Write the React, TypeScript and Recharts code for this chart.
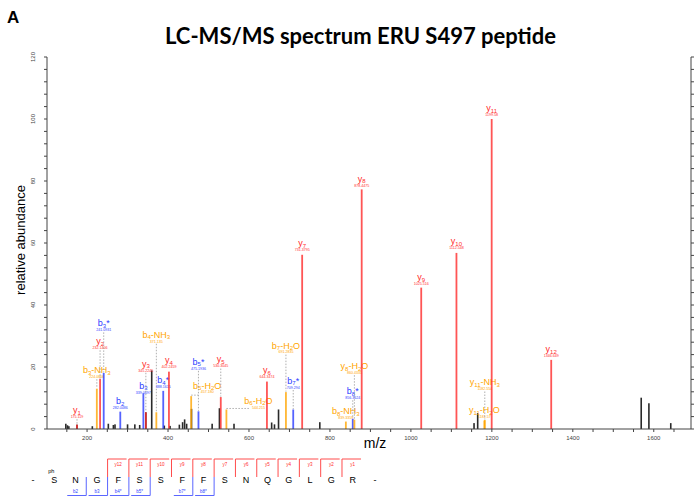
import React from "react";
import {Bar, ComposedChart, ReferenceLine, XAxis, YAxis} from "recharts";

// assigned fragment ions (name, m/z as printed, relative abundance)
const ionNames = ["y1", "b3-NH3", "y2", "b3*", "b2", "b3", "y3", "b4-NH3", "b4*", "y4", "b5-H2O", "b5*", "y5", "b6-H2O", "y6", "b7-H2O", "b7*", "y7", "b8-NH3", "b8*", "y8-H2O", "y8", "y9", "y10", "y11-H2O", "y11-NH3", "y11", "y12"];
const ionMz = ["175.119", "224.0866", "232.1406", "241.0931", "282.0486", "339.0697", "345.2245", "371.135", "388.1615", "402.2459", "457.180", "475.1936", "530.3045", "544.215", "644.3474", "691.2835", "709.294", "731.3795", "839.3359", "856.3624", "860.4335", "878.4475", "1025.516", "1112.548", "1181.57", "1182.554", "1199.58", "1346.649"];
const ionIntensity = [1.4, 13, 16.2, 18.1, 5.6, 11.5, 5.4, 5.4, 12.3, 18.5, 10.6, 5.7, 10.3, 6.3, 15.3, 11.9, 6.3, 56.2, 2.4, 3.3, 3.0, 77.3, 45.6, 56.8, 2.7, 2.9, 100, 22.3];

// unassigned peaks
const otherMz = [147.5, 151.6, 155, 175.1, 213, 252.5, 265, 269, 300, 318, 330, 345.2, 359.7, 390.8, 405, 428, 436, 441, 446, 458, 509, 527, 563, 656, 663, 673, 775, 1156, 1165, 1569, 1588, 1642];
const otherIntensity = [1.7, 1.2, 0.9, 1.4, 0.9, 1.7, 1.3, 1.5, 1.5, 1.5, 1.3, 5.4, 18.9, 1.1, 1.0, 1.4, 2.2, 3.1, 1.7, 6.5, 1.7, 6.7, 1.7, 2.1, 1.5, 6.3, 2.2, 1.9, 5.1, 10.1, 8.3, 1.9];

const xTicks = [150, 200, 250, 300, 350, 400, 450, 500, 550, 600, 650, 700, 750, 800, 850, 900, 950, 1000, 1050, 1100, 1150, 1200, 1250, 1300, 1350, 1400, 1450, 1500, 1550, 1600, 1650];
const xLabelTicks = [200, 400, 600, 800, 1000, 1200, 1400, 1600];
const yTicks = [0, 4, 8, 12, 16, 20, 24, 28, 32, 36, 40, 44, 48, 52, 56, 60, 64, 68, 72, 76, 80, 84, 88, 92, 96, 100, 104, 108, 112, 116, 120];
const yLabelTicks = [0, 20, 40, 60, 80, 100, 120];

// peptide map
const sequence = ["S", "N", "G", "F", "S", "S", "F", "F", "S", "N", "Q", "G", "L", "G", "R"];
const yIonLabels = ["y12", "y11", "y10", "y9", "y8", "y7", "y6", "y5", "y4", "y3", "y2", "y1"];
const yIonResidue = [3, 4, 5, 6, 7, 8, 9, 10, 11, 12, 13, 14];
const bIonLabels = ["b2", "b3", "b4*", "b5*", "b7*", "b8*"];
const bIonResidue = [1, 2, 3, 4, 6, 7];

// label placement: lift = extra px above the peak top, dx = sideways shift
const labelLayout: Record<string, {lift: number, dx?: number}> = {
    "b3*": {lift: 39}, "y2": {lift: 27}, "b3-NH3": {lift: 8}, "y1": {lift: 4},
    "b3": {lift: -3}, "y3": {lift: 38}, "b4-NH3": {lift: 67}, "y4": {lift: 1},
    "b5*": {lift: 39}, "y5": {lift: 27}, "b5-H2O": {lift: 0, dx: 16}, "b6-H2O": {lift: -2, dx: 32},
    "y6": {lift: 1}, "b7-H2O": {lift: 36}, "b7*": {lift: 18}, "y7": {lift: 1},
    "b8*": {lift: 17}, "y8-H2O": {lift: 43}, "y10": {lift: 1}, "y11-NH3": {lift: 27},
};

const X_MIN = 101;
const X_MAX = 1692;
const RIGHT_TICK_LEN = 7.4; // in m/z units, about 3px

const RED = "#ff2a2a";
const BLUE = "#2b3cff";
const ORANGE = "#ffa500";
const AXIS = "#444";
const FONT = "'Liberation Sans', Arial, sans-serif";

const ionColor = (name: string) => name.includes("-") ? ORANGE : name.startsWith("y") ? RED : BLUE;

const peaks = [
    ...otherMz.map((mz, i) => ({mz, intensity: otherIntensity[i], ion: "", label: ""})),
    ...ionNames.map((ion, i) => ({mz: Number(ionMz[i]), intensity: ionIntensity[i], ion, label: ionMz[i]})),
];

const IonName = ({name, x, y, color}: any) => {
    const parts: string[] = name.match(/\d+|\D+/g) || [];
    return (
        <text x={x} y={y} textAnchor="middle" fill={color} fontSize={9} fontFamily={FONT}>
            {parts.map((p, i) => /\d/.test(p)
                ? <tspan key={i} fontSize={6} dy={1.6}>{p}</tspan>
                : <tspan key={i} dy={i > 0 ? -1.6 : 0}>{p}</tspan>)}
        </text>
    );
};

const PeakShape = (props: any) => {
    const {x, y, width, payload} = props;
    if (x == null || y == null) return <g/>;
    const cx = x + width / 2;
    const bottom = y + props.height;
    const ion: string = payload.ion;
    if (!ion) {
        return <rect x={cx - 0.8} y={y} width={1.6} height={bottom - y} fill="#2a2a2a"/>;
    }
    const color = ionColor(ion);
    const lay = labelLayout[ion] || {lift: 0};
    const lx = cx + (lay.dx || 0);
    const valueY = y - 4 - lay.lift;
    return (
        <g>
            <rect x={cx - 0.9} y={y} width={1.8} height={bottom - y} fill={color} fillOpacity={0.8}/>
            {lay.lift > 3 && (
                <line x1={cx} x2={cx} y1={valueY + 2.5} y2={y - 0.5} stroke="#9a9a9a" strokeWidth={0.8} strokeDasharray="1.5 1.5"/>
            )}
            {lay.dx && (
                <line x1={cx} x2={lx - 9} y1={y - 1} y2={y - 1} stroke="#9a9a9a" strokeWidth={0.8} strokeDasharray="1.5 1.5"/>
            )}
            <IonName name={ion} x={lx} y={valueY - 3.6} color={color}/>
            <text x={lx} y={valueY + 1.3} textAnchor="middle" fill={color} fontSize={3.6} fontFamily={FONT}>{payload.label}</text>
        </g>
    );
};

const XTick = ({x, y, payload}: any) => (
    xLabelTicks.includes(payload.value)
        ? <text x={x} y={y} dy={4.5} textAnchor="middle" fontSize={6} fill={AXIS} fontFamily={FONT}>{payload.value}</text>
        : <g/>
);

const YTick = ({x, y, payload}: any) => (
    yLabelTicks.includes(payload.value)
        ? <text transform={`translate(${x},${y}) rotate(-90)`} textAnchor="middle" fontSize={6} fill={AXIS} fontFamily={FONT}>{payload.value}</text>
        : <g/>
);

const letterX = (i: number) => 54.3 + i * 21.31;

const App = () => {
    return (
        <div style={{position: "absolute", left: 0, top: 0, width: 698, height: 497, background: "#fff", overflow: "hidden"}}>
            <ComposedChart width={698} height={449} data={peaks} margin={{top: 57, right: 7, left: 0, bottom: 0}}>
                <XAxis dataKey="mz" type="number" domain={[X_MIN, X_MAX]} ticks={xTicks} interval={0}
                       tick={<XTick/>} tickSize={3} tickMargin={3} height={20} stroke={AXIS}/>
                <YAxis yAxisId="left" type="number" domain={[0, 120]} ticks={yTicks} interval={0}
                       tick={<YTick/>} tickSize={3} tickMargin={9} width={47} stroke={AXIS}/>
                <Bar yAxisId="left" dataKey="intensity" barSize={2} isAnimationActive={false} shape={<PeakShape/>}/>
                {/* right-hand frame axis */}
                <ReferenceLine yAxisId="left" x={X_MAX} stroke={AXIS} ifOverflow="visible"/>
                {yTicks.map(t => (
                    <ReferenceLine key={t} yAxisId="left" ifOverflow="visible" stroke={AXIS}
                                   segment={[{x: X_MAX, y: t}, {x: X_MAX + RIGHT_TICK_LEN, y: t}]}/>
                ))}
            </ComposedChart>
            <svg width={698} height={497} style={{position: "absolute", left: 0, top: 0, pointerEvents: "none"}}>
                <text x={7} y={23} fontSize={17} fontWeight="bold" fontFamily={FONT}>A</text>
                <text x={360.5} y={44} textAnchor="middle" fontSize={22} fontWeight="bold" fontFamily="Lato, sans-serif">
                    LC-MS/MS spectrum ERU S497 peptide
                </text>
                <text transform="translate(25,240) rotate(-90)" textAnchor="middle" fontSize={13} fontFamily={FONT}>relative abundance</text>
                <text x={375} y={448} textAnchor="middle" fontSize={14} fontFamily={FONT}>m/z</text>

                <text x={33} y={483} textAnchor="middle" fontSize={9} fontFamily={FONT}>-</text>
                <text x={letterX(sequence.length - 1) + 22.3} y={483} textAnchor="middle" fontSize={9} fontFamily={FONT}>-</text>
                <text x={letterX(0) - 3} y={473} textAnchor="middle" fontSize={5.5} fontFamily={FONT}>ph</text>
                {sequence.map((aa, i) => (
                    <text key={i} x={letterX(i)} y={483} textAnchor="middle" fontSize={9} fontFamily={FONT}>{aa}</text>
                ))}
                {yIonLabels.map((lab, k) => {
                    const xb = letterX(yIonResidue[k]) - 10.65;
                    return (
                        <g key={lab}>
                            <path d={`M${xb} 477 V459 H${xb + 19}`} fill="none" stroke="#ff4d4d" strokeWidth={1}/>
                            <text x={letterX(yIonResidue[k])} y={466} textAnchor="middle" fontSize={4.5} fill={RED} fontFamily={FONT}>{lab}</text>
                        </g>
                    );
                })}
                {bIonLabels.map((lab, k) => {
                    const xb = letterX(bIonResidue[k]) + 10.65;
                    return (
                        <g key={lab}>
                            <path d={`M${xb} 477 V495.5 H${xb - 19}`} fill="none" stroke="#5a66ff" strokeWidth={1}/>
                            <text x={letterX(bIonResidue[k])} y={493} textAnchor="middle" fontSize={4.5} fill={BLUE} fontFamily={FONT}>{lab}</text>
                        </g>
                    );
                })}
            </svg>
        </div>
    );
};

export default App;
